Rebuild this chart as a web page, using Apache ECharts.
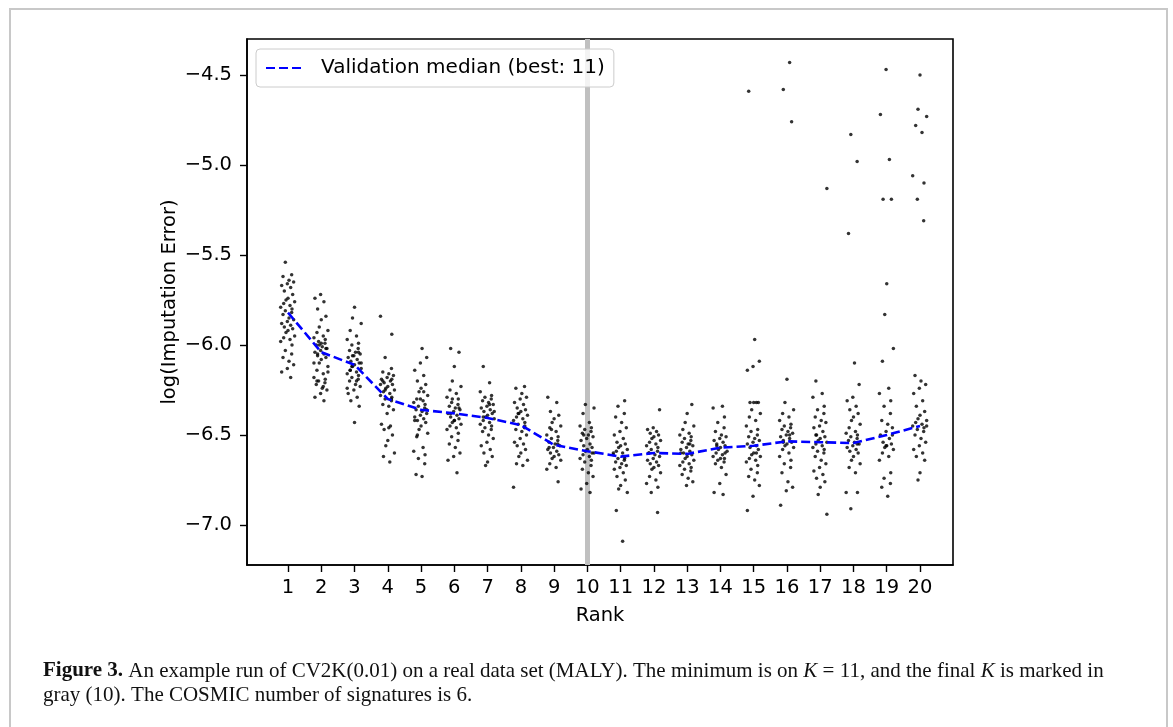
<!DOCTYPE html>
<html>
<head>
<meta charset="utf-8">
<script src="https://cdn.jsdelivr.net/npm/echarts@6/dist/echarts.min.js"></script>
<style>
    html, body { margin: 0; padding: 0; background: #fff; }
    #chart-container { width: 1173px; height: 727px; }
</style>
</head>
<body>
<div id="chart-container"></div>
<script>
var ranks = [1, 2, 3, 4, 5, 6, 7, 8, 9, 10, 11, 12, 13, 14, 15, 16, 17, 18, 19, 20];
var yTicks = [-7.0, -6.5, -6.0, -5.5, -5.0, -4.5];

// validation median per rank (blue dashed)
var medianValues = [-5.82, -6.04, -6.11, -6.30, -6.36, -6.38, -6.405, -6.445, -6.555, -6.59,
    -6.62, -6.60, -6.605, -6.57, -6.56, -6.535, -6.54, -6.545, -6.50, -6.45];

var FINAL_K = 10;

// horizontal jitter used for the dots of each rank
var jitter = [-0.08, 0.11, -0.15, 0.03, 0.17, -0.02, -0.19, 0.08, -0.11, 0.14, 0.0, -0.06, 0.2, -0.13, 0.06, -0.22, 0.12];

// per-run validation errors
var rank1 = [-5.54, -5.61, -5.62, -5.64, -5.65, -5.66, -5.67, -5.68, -5.70, -5.72, -5.74, -5.75, -5.76, -5.77, -5.78,
    -5.79, -5.80, -5.81, -5.82, -5.83, -5.85, -5.86, -5.87, -5.88, -5.89, -5.90, -5.91, -5.92, -5.93, -5.95, -5.96,
    -5.97, -5.98, -6.00, -6.03, -6.05, -6.07, -6.09, -6.11, -6.13, -6.15, -6.18];
var rank2 = [-5.72, -5.74, -5.76, -5.80, -5.84, -5.86, -5.90, -5.92, -5.93, -5.95, -5.96, -5.97, -5.98, -5.99, -6.00,
    -6.01, -6.02, -6.03, -6.04, -6.05, -6.06, -6.07, -6.08, -6.10, -6.12, -6.14, -6.16, -6.18, -6.19, -6.20, -6.21,
    -6.22, -6.24, -6.25, -6.27, -6.29, -6.31, -6.05, -6.02, -5.99, -6.00, -6.15, -6.20, -6.23, -6.10];
var rank3 = [-5.79, -5.85, -5.88, -5.92, -5.95, -5.97, -5.99, -6.00, -6.02, -6.03, -6.04, -6.05, -6.06, -6.07, -6.08,
    -6.09, -6.10, -6.11, -6.12, -6.13, -6.14, -6.15, -6.16, -6.17, -6.18, -6.19, -6.20, -6.22, -6.23, -6.25, -6.27,
    -6.29, -6.31, -6.34, -6.43, -6.06, -6.10, -6.14, -6.20, -6.24, -6.04, -6.12];
var rank4 = [-5.84, -5.94, -6.07, -6.13, -6.15, -6.16, -6.17, -6.18, -6.19, -6.20, -6.21, -6.22, -6.23, -6.24, -6.25,
    -6.26, -6.27, -6.28, -6.29, -6.30, -6.31, -6.33, -6.34, -6.36, -6.38, -6.44, -6.45, -6.47, -6.50, -6.53, -6.56,
    -6.60, -6.62, -6.65, -6.22, -6.19, -6.25, -6.30, -6.20, -6.46];
var rank5 = [-6.02, -6.07, -6.10, -6.14, -6.17, -6.20, -6.22, -6.24, -6.26, -6.28, -6.30, -6.31, -6.32, -6.33, -6.34,
    -6.35, -6.36, -6.37, -6.38, -6.39, -6.40, -6.41, -6.42, -6.43, -6.45, -6.47, -6.49, -6.51, -6.57, -6.59, -6.61,
    -6.63, -6.66, -6.72, -6.73, -6.36, -6.30, -6.42, -6.26, -6.50];
var rank6 = [-6.02, -6.04, -6.12, -6.20, -6.23, -6.25, -6.27, -6.29, -6.30, -6.32, -6.33, -6.34, -6.35, -6.36, -6.37,
    -6.38, -6.39, -6.40, -6.41, -6.42, -6.43, -6.44, -6.45, -6.46, -6.47, -6.49, -6.51, -6.53, -6.55, -6.57, -6.60,
    -6.62, -6.64, -6.71, -6.38, -6.35, -6.42, -6.30];
var rank7 = [-6.12, -6.21, -6.26, -6.28, -6.29, -6.30, -6.31, -6.32, -6.33, -6.34, -6.35, -6.36, -6.37, -6.38, -6.39,
    -6.40, -6.41, -6.42, -6.43, -6.44, -6.45, -6.46, -6.47, -6.48, -6.50, -6.52, -6.54, -6.56, -6.58, -6.60, -6.62,
    -6.65, -6.67, -6.37, -6.40, -6.33];
var rank8 = [-6.23, -6.24, -6.27, -6.29, -6.30, -6.32, -6.33, -6.35, -6.36, -6.37, -6.38, -6.39, -6.40, -6.41, -6.42,
    -6.43, -6.44, -6.46, -6.47, -6.48, -6.50, -6.52, -6.54, -6.55, -6.56, -6.58, -6.60, -6.62, -6.64, -6.66, -6.67,
    -6.79, -6.45, -6.38];
var rank9 = [-6.29, -6.32, -6.37, -6.39, -6.41, -6.43, -6.45, -6.46, -6.48, -6.50, -6.51, -6.52, -6.53, -6.54, -6.55,
    -6.56, -6.57, -6.58, -6.59, -6.60, -6.61, -6.62, -6.63, -6.64, -6.66, -6.68, -6.69, -6.76, -6.47, -6.55, -6.57];
var rank10 = [-6.33, -6.35, -6.38, -6.43, -6.45, -6.46, -6.47, -6.48, -6.49, -6.50, -6.51, -6.52, -6.53, -6.55, -6.56,
    -6.57, -6.58, -6.59, -6.60, -6.61, -6.62, -6.63, -6.64, -6.65, -6.67, -6.69, -6.71, -6.73, -6.77, -6.80, -6.82,
    -6.50, -6.60];
var rank11 = [-6.31, -6.34, -6.38, -6.40, -6.43, -6.46, -6.48, -6.50, -6.52, -6.54, -6.55, -6.56, -6.57, -6.58, -6.59,
    -6.60, -6.61, -6.62, -6.63, -6.64, -6.65, -6.66, -6.67, -6.68, -6.69, -6.71, -6.73, -6.75, -6.78, -6.80, -6.82,
    -6.92, -7.09, -6.60, -6.63];
var rank12 = [-6.36, -6.46, -6.47, -6.48, -6.49, -6.50, -6.51, -6.52, -6.53, -6.54, -6.55, -6.56, -6.57, -6.58, -6.59,
    -6.60, -6.61, -6.62, -6.63, -6.64, -6.65, -6.66, -6.67, -6.68, -6.69, -6.71, -6.73, -6.75, -6.77, -6.79, -6.82,
    -6.93, -6.60];
var rank13 = [-6.33, -6.38, -6.43, -6.45, -6.47, -6.49, -6.50, -6.51, -6.52, -6.53, -6.54, -6.55, -6.56, -6.57, -6.58,
    -6.59, -6.60, -6.61, -6.62, -6.63, -6.64, -6.65, -6.66, -6.67, -6.68, -6.69, -6.70, -6.72, -6.74, -6.76, -6.78,
    -6.60, -6.55];
var rank14 = [-6.34, -6.35, -6.40, -6.43, -6.46, -6.48, -6.50, -6.51, -6.52, -6.53, -6.54, -6.55, -6.56, -6.57, -6.58,
    -6.59, -6.60, -6.61, -6.62, -6.63, -6.64, -6.65, -6.66, -6.68, -6.72, -6.77, -6.82, -6.83, -6.56, -6.60, -6.63];
var rank15 = [-4.59, -5.97, -6.09, -6.12, -6.14, -6.32, -6.32, -6.32, -6.32, -6.36, -6.38, -6.40, -6.42, -6.45, -6.47,
    -6.48, -6.50, -6.51, -6.52, -6.53, -6.54, -6.55, -6.56, -6.57, -6.58, -6.60, -6.61, -6.62, -6.63, -6.64, -6.65,
    -6.67, -6.69, -6.71, -6.73, -6.75, -6.78, -6.84, -6.92, -6.60];
var rank16 = [-4.43, -4.58, -4.76, -6.19, -6.32, -6.36, -6.38, -6.40, -6.42, -6.44, -6.45, -6.46, -6.47, -6.48, -6.49,
    -6.50, -6.51, -6.52, -6.53, -6.54, -6.55, -6.56, -6.57, -6.58, -6.60, -6.62, -6.64, -6.66, -6.68, -6.71, -6.76,
    -6.79, -6.81, -6.89, -6.50, -6.54];
var rank17 = [-5.13, -6.20, -6.27, -6.29, -6.34, -6.36, -6.38, -6.40, -6.42, -6.43, -6.45, -6.46, -6.48, -6.50, -6.51,
    -6.52, -6.53, -6.54, -6.55, -6.56, -6.57, -6.58, -6.59, -6.60, -6.62, -6.64, -6.66, -6.68, -6.70, -6.72, -6.74,
    -6.76, -6.79, -6.83, -6.94, -6.50];
var rank18 = [-4.83, -4.98, -5.38, -6.10, -6.22, -6.29, -6.31, -6.34, -6.36, -6.38, -6.40, -6.42, -6.44, -6.46, -6.48,
    -6.49, -6.50, -6.51, -6.52, -6.53, -6.54, -6.55, -6.56, -6.57, -6.58, -6.59, -6.60, -6.62, -6.64, -6.66, -6.68,
    -6.71, -6.82, -6.82, -6.91, -6.55];
var rank19 = [-4.47, -4.72, -4.97, -5.19, -5.19, -5.66, -5.83, -6.02, -6.09, -6.24, -6.27, -6.31, -6.34, -6.38, -6.42,
    -6.44, -6.46, -6.48, -6.50, -6.52, -6.54, -6.55, -6.56, -6.57, -6.58, -6.60, -6.62, -6.64, -6.71, -6.74, -6.77,
    -6.79, -6.84, -6.50, -6.56];
var rank20 = [-4.50, -4.69, -4.73, -4.78, -4.82, -5.06, -5.10, -5.19, -5.31, -6.17, -6.20, -6.22, -6.24, -6.27, -6.31,
    -6.34, -6.37, -6.39, -6.41, -6.42, -6.43, -6.44, -6.45, -6.46, -6.47, -6.48, -6.50, -6.52, -6.54, -6.56, -6.58,
    -6.60, -6.62, -6.64, -6.71, -6.75, -6.45];

var runValues = [rank1, rank2, rank3, rank4, rank5, rank6, rank7, rank8, rank9, rank10,
    rank11, rank12, rank13, rank14, rank15, rank16, rank17, rank18, rank19, rank20];

var chart;

function minusSign(v) {
    return String(v).replace('-', '\u2212');
}

function buildScatter() {
    var data = [];
    runValues.forEach(function (values, r) {
        values.forEach(function (v, i) {
            data.push([ranks[r] + jitter[(i + r * 5) % jitter.length], v]);
        });
    });
    return data;
}

function buildMedian() {
    return ranks.map(function (r, i) {
        return [r, medianValues[i]];
    });
}

var axisFont = 'DejaVu Sans';
var fontSize = 19.5;

option = {
    animation: false,
    backgroundColor: '#fff',
    grid: {
        left: 247,
        right: 220,
        top: 39,
        bottom: 162,
        show: true,
        borderColor: '#000',
        borderWidth: 1.6,
        backgroundColor: 'transparent'
    },
    legend: {
        data: ['Validation median (best: 11)'],
        left: 256,
        top: 49,
        z: 10,
        padding: [9, 9, 9, 9],
        itemWidth: 38,
        itemHeight: 14,
        borderColor: '#cccccc',
        borderWidth: 1,
        borderRadius: 4,
        backgroundColor: 'rgba(255,255,255,0.8)',
        itemStyle: { color: 'transparent', borderWidth: 0 },
        textStyle: {
            fontFamily: axisFont,
            fontSize: 20,
            color: '#000',
            padding: [0, 0, 0, 12]
        }
    },
    xAxis: {
        type: 'value',
        min: -0.2326,
        max: 20.992,
        name: 'Rank',
        nameLocation: 'middle',
        nameGap: 41,
        nameMoveOverlap: false,
        nameTextStyle: { fontFamily: axisFont, fontSize: fontSize, color: '#000' },
        splitLine: { show: false },
        axisLine: { show: true, onZero: false, lineStyle: { color: '#000', width: 1.6 } },
        axisTick: { show: true, length: 7, customValues: ranks, lineStyle: { color: '#000', width: 1.4 } },
        axisLabel: {
            customValues: ranks,
            margin: 13,
            fontFamily: axisFont,
            fontSize: fontSize,
            color: '#000'
        }
    },
    yAxis: {
        type: 'value',
        min: -7.2222,
        max: -4.3,
        name: 'log(Imputation Error)',
        nameLocation: 'middle',
        nameGap: 67,
        nameMoveOverlap: false,
        nameTextStyle: { fontFamily: axisFont, fontSize: fontSize, color: '#000' },
        splitLine: { show: false },
        axisLine: { show: true, onZero: false, lineStyle: { color: '#000', width: 1.6 } },
        axisTick: { show: true, length: 7, customValues: yTicks, lineStyle: { color: '#000', width: 1.4 } },
        axisLabel: {
            customValues: yTicks,
            margin: 15,
            fontFamily: axisFont,
            fontSize: fontSize,
            color: '#000',
            formatter: function (v) {
                return minusSign(v.toFixed(1));
            }
        }
    },
    series: [{
        // final K marker
        type: 'line',
        data: [],
        z: 1,
        silent: true,
        markLine: {
            symbol: 'none',
            silent: true,
            z: 1,
            label: { show: false },
            lineStyle: { color: '#c0c0c0', width: 5, type: 'solid' },
            data: [{ xAxis: FINAL_K }]
        }
    }, {
        type: 'scatter',
        data: buildScatter(),
        symbolSize: 3.5,
        z: 3,
        itemStyle: { color: '#000' }
    }, {
        name: 'Validation median (best: 11)',
        type: 'line',
        data: buildMedian(),
        z: 4,
        symbol: 'none',
        lineStyle: { color: '#0000ff', width: 2.6, type: [9, 4] },
        itemStyle: { color: '#0000ff' }
    }],
    graphic: [{
        type: 'rect',
        silent: true,
        shape: { x: 10, y: 9, width: 1157, height: 760 },
        style: { fill: 'none', stroke: '#c8c8c8', lineWidth: 2 }
    }, {
        type: 'text',
        left: 43,
        top: 659,
        silent: true,
        style: {
            text: '{b|Figure 3.} An example run of CV2K(0.01) on a real data set (MALY). The minimum is on {i|K} = 11, and the final {i|K} is marked in\ngray (10). The COSMIC number of signatures is 6.',
            fontFamily: 'Liberation Serif',
            fontSize: 21,
            lineHeight: 24,
            fill: '#111',
            rich: {
                b: { fontWeight: 'bold', fontFamily: 'Liberation Serif', fontSize: 21 },
                i: { fontStyle: 'italic', fontFamily: 'Liberation Serif', fontSize: 21 }
            }
        }
    }]
};

chart = echarts.init(document.getElementById('chart-container'));
chart.setOption(option);
</script>
</body>
</html>
